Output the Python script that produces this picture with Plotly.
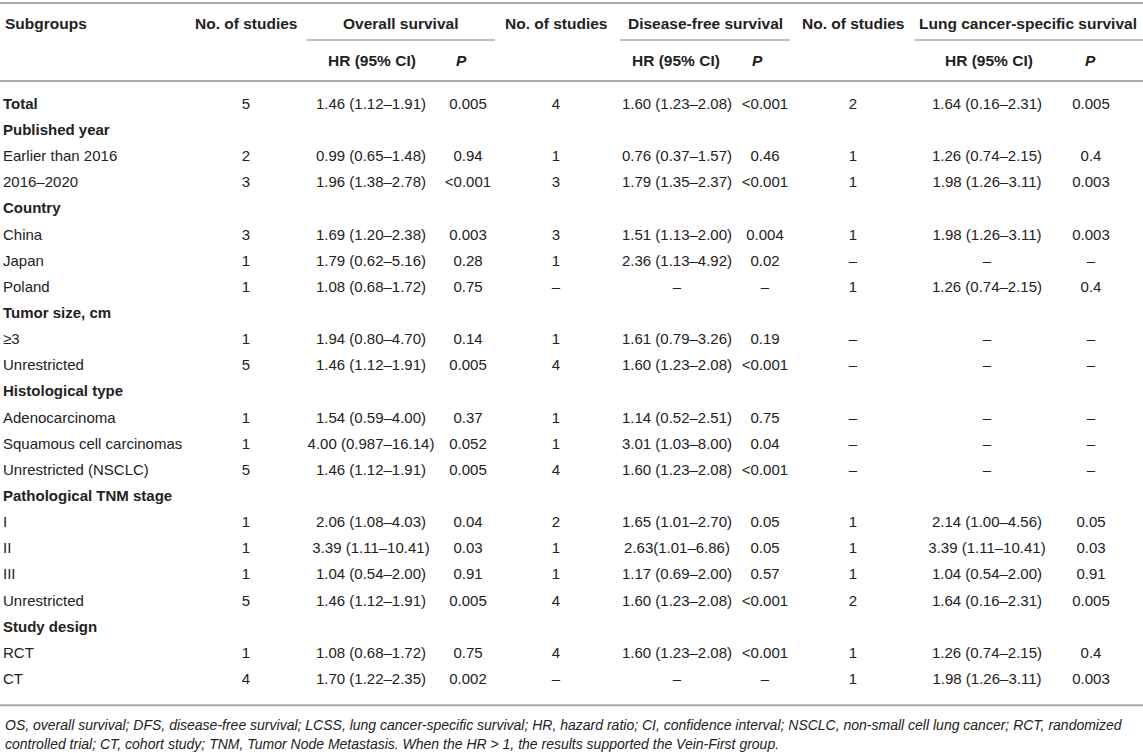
import plotly.graph_objects as go

# table content
subgroups = ['Total', 'Published year', 'Earlier than 2016', '2016–2020', 'Country', 'China', 'Japan',
             'Poland', 'Tumor size, cm', '≥3', 'Unrestricted', 'Histological type', 'Adenocarcinoma',
             'Squamous cell carcinomas', 'Unrestricted (NSCLC)', 'Pathological TNM stage', 'I', 'II', 'III',
             'Unrestricted', 'Study design', 'RCT', 'CT']
bold_rows = ['Total', 'Published year', 'Country', 'Tumor size, cm', 'Histological type',
             'Pathological TNM stage', 'Study design']

n_os = ['5', '', '2', '3', '', '3', '1', '1', '', '1', '5', '', '1', '1', '5', '', '1', '1', '1', '5', '', '1', '4']
hr_os = ['1.46 (1.12–1.91)', '', '0.99 (0.65–1.48)', '1.96 (1.38–2.78)', '', '1.69 (1.20–2.38)',
         '1.79 (0.62–5.16)', '1.08 (0.68–1.72)', '', '1.94 (0.80–4.70)', '1.46 (1.12–1.91)', '',
         '1.54 (0.59–4.00)', '4.00 (0.987–16.14)', '1.46 (1.12–1.91)', '', '2.06 (1.08–4.03)',
         '3.39 (1.11–10.41)', '1.04 (0.54–2.00)', '1.46 (1.12–1.91)', '', '1.08 (0.68–1.72)', '1.70 (1.22–2.35)']
p_os = ['0.005', '', '0.94', '<0.001', '', '0.003', '0.28', '0.75', '', '0.14', '0.005', '', '0.37', '0.052',
        '0.005', '', '0.04', '0.03', '0.91', '0.005', '', '0.75', '0.002']

n_dfs = ['4', '', '1', '3', '', '3', '1', '–', '', '1', '4', '', '1', '1', '4', '', '2', '1', '1', '4', '', '4', '–']
hr_dfs = ['1.60 (1.23–2.08)', '', '0.76 (0.37–1.57)', '1.79 (1.35–2.37)', '', '1.51 (1.13–2.00)',
          '2.36 (1.13–4.92)', '–', '', '1.61 (0.79–3.26)', '1.60 (1.23–2.08)', '', '1.14 (0.52–2.51)',
          '3.01 (1.03–8.00)', '1.60 (1.23–2.08)', '', '1.65 (1.01–2.70)', '2.63(1.01–6.86)', '1.17 (0.69–2.00)',
          '1.60 (1.23–2.08)', '', '1.60 (1.23–2.08)', '–']
p_dfs = ['<0.001', '', '0.46', '<0.001', '', '0.004', '0.02', '–', '', '0.19', '<0.001', '', '0.75', '0.04',
         '<0.001', '', '0.05', '0.05', '0.57', '<0.001', '', '<0.001', '–']

n_lcss = ['2', '', '1', '1', '', '1', '–', '1', '', '–', '–', '', '–', '–', '–', '', '1', '1', '1', '2', '', '1', '1']
hr_lcss = ['1.64 (0.16–2.31)', '', '1.26 (0.74–2.15)', '1.98 (1.26–3.11)', '', '1.98 (1.26–3.11)', '–',
           '1.26 (0.74–2.15)', '', '–', '–', '', '–', '–', '–', '', '2.14 (1.00–4.56)', '3.39 (1.11–10.41)',
           '1.04 (0.54–2.00)', '1.64 (0.16–2.31)', '', '1.26 (0.74–2.15)', '1.98 (1.26–3.11)']
p_lcss = ['0.005', '', '0.4', '0.003', '', '0.003', '–', '0.4', '', '–', '–', '', '–', '–', '–', '', '0.05',
          '0.03', '0.91', '0.005', '', '0.4', '0.003']

header_top = ['Subgroups', 'No. of studies', 'Overall survival', 'No. of studies', 'Disease-free survival',
              'No. of studies', 'Lung cancer-specific survival']
header_sub = ['HR (95% CI)', 'P']

footnote = ['OS, overall survival; DFS, disease-free survival; LCSS, lung cancer-specific survival; HR, hazard ratio; '
            'CI, confidence interval; NSCLC, non-small cell lung cancer; RCT, randomized',
            'controlled trial; CT, cohort study; TNM, Tumor Node Metastasis. When the HR > 1, '
            'the results supported the Vein-First group.']

W, H = 1143, 753
FONT = 'Liberation Sans, Arial, Helvetica, sans-serif'
TXT = '#222222'
RULE = '#ababab'

y0, dy = 105, 26.15
row_y = [y0 + i * dy for i in range(len(subgroups))]

# column centres (px)
col_x = [246, 371, 468, 556, 677, 765, 853, 987, 1091]
columns = [n_os, hr_os, p_os, n_dfs, hr_dfs, p_dfs, n_lcss, hr_lcss, p_lcss]

fig = go.Figure()

labels = ['<b>%s</b>' % s if s in bold_rows else s for s in subgroups]
fig.add_trace(go.Scatter(x=[3] * len(labels), y=row_y, text=labels, mode='text',
                         textposition='middle right', hoverinfo='skip',
                         textfont=dict(family=FONT, size=15, color=TXT)))
for cx, vals in zip(col_x, columns):
    fig.add_trace(go.Scatter(x=[cx] * len(vals), y=row_y, text=vals, mode='text',
                             textposition='middle center', hoverinfo='skip',
                             textfont=dict(family=FONT, size=15, color=TXT)))

# header
hfont = dict(family=FONT, size=15.5, color=TXT)
top_x = [3, 246, 400, 556, 705, 853, 1028]
for i, (hx, t) in enumerate(zip(top_x, header_top)):
    fig.add_annotation(x=hx, y=23, text='<b>%s</b>' % t, showarrow=False, font=hfont,
                       xanchor='left' if i == 0 else 'center', yanchor='middle')
for hx, t in zip([372, 461, 676, 757, 989, 1090], header_sub * 3):
    txt = '<b><i>%s</i></b>' % t if t == 'P' else '<b>%s</b>' % t
    fig.add_annotation(x=hx, y=60, text=txt, showarrow=False, font=hfont, xanchor='center', yanchor='middle')

# rules
for yy in [3, 81, row_y[-1] + 25]:
    fig.add_shape(type='line', x0=0, x1=W, y0=yy, y1=yy, line=dict(color=RULE, width=2))
for a, b in [(307, 495), (620, 790), (915, 1143)]:
    fig.add_shape(type='line', x0=a, x1=b, y0=40, y1=40, line=dict(color=RULE, width=1.5))

# footnote
for k, line in enumerate(footnote):
    fig.add_annotation(x=3, y=row_y[-1] + 45 + k * 19, text=line, showarrow=False, xanchor='left',
                       yanchor='middle', font=dict(family=FONT, size=14, color=TXT, style='italic'))

fig.update_layout(width=W, height=H, margin=dict(l=0, r=0, t=0, b=0), showlegend=False,
                  plot_bgcolor='white', paper_bgcolor='white',
                  xaxis=dict(range=[0, W], visible=False, fixedrange=True),
                  yaxis=dict(range=[H, 0], visible=False, fixedrange=True))
fig.write_html('out.html', config={'displayModeBar': False},
               post_script="document.body.style.margin='0px';")
